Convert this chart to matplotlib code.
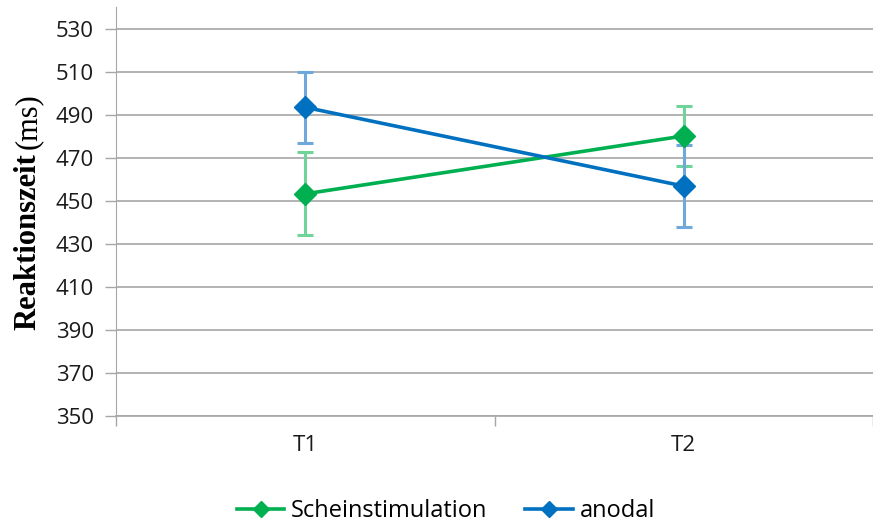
import numpy as np
import matplotlib
matplotlib.use('Agg')
import matplotlib.pyplot as plt

# Daten
zeitpunkte = ['T1', 'T2']
schein = [453.2, 480.1]
schein_err = [19.3, 14.1]
anodal = [493.4, 456.8]
anodal_err = [16.6, 19.2]
y_ticks = np.arange(350, 531, 20)

gruen = '#00B050'
gruen_hell = '#6FD49A'
blau = '#0070C0'
blau_hell = '#6FA8DA'
grau = '#A6A6A6'

plt.rcParams['font.family'] = ['Open Sans', 'DejaVu Sans']

fig = plt.figure(figsize=(8.73, 5.24), dpi=100)
W, H = 873, 524
ax = fig.add_axes([116 / W, 1 - 416 / H, (W - 116) / W, (416 - 7) / H])

x = np.arange(len(zeitpunkte))

# Fehlerbalken
ax.errorbar(x, schein, yerr=schein_err, fmt='none', ecolor=gruen_hell,
            elinewidth=2.2, capsize=6, capthick=2.2, zorder=3)
ax.errorbar(x, anodal, yerr=anodal_err, fmt='none', ecolor=blau_hell,
            elinewidth=2.2, capsize=6, capthick=2.2, zorder=3)

# Linien
ax.plot(x, schein, color=gruen, lw=2.6, marker='D', markersize=11.5,
        label='Scheinstimulation', zorder=4)
ax.plot(x, anodal, color=blau, lw=2.6, marker='D', markersize=11.5,
        label='anodal', zorder=4)

ax.set_ylim(350, 540)
ax.set_yticks(y_ticks)
ax.set_xlim(-0.5, 1.5 - 7 / 382)
ax.set_xticks([-0.5, 0.5, 1.5])
ax.set_xticklabels([])
ax.set_xticks(x, minor=True)
ax.set_xticklabels(zeitpunkte, minor=True)
ax.tick_params(axis='x', which='minor', length=0, pad=14, labelsize=16,
               labelcolor='#1a1a1a')
ax.tick_params(axis='x', which='major', length=7, color=grau, width=1)
ax.tick_params(axis='y', length=8, color=grau, width=1, labelsize=16,
               labelcolor='#1a1a1a', pad=8)

ax.grid(axis='y', color=grau, lw=1.2)
ax.set_axisbelow(True)
for s in ['top', 'right']:
    ax.spines[s].set_visible(False)
ax.spines['left'].set_color(grau)
ax.spines['bottom'].set_color(grau)
ax.spines['bottom'].set_linewidth(1.2)

# Achsenbeschriftung
t1 = fig.text(28 / W, 1 - 330 / H, 'Reaktionszeit', rotation=90,
              family='Liberation Serif', fontweight='bold', fontsize=22,
              ha='center', va='bottom')
fig.canvas.draw()
bb = t1.get_window_extent()
fig.text(28 / W, (bb.y1 + 4) / H, '(ms)', rotation=90,
         family='Liberation Serif', fontsize=22, ha='center', va='bottom')

fig.legend(loc='center', bbox_to_anchor=(446 / W, 1 - 511 / H), ncol=2,
           frameon=False, fontsize=17, handlelength=2.0, columnspacing=1.6,
           handletextpad=0.3, markerscale=0.75)

fig.savefig('out.png', dpi=100)
